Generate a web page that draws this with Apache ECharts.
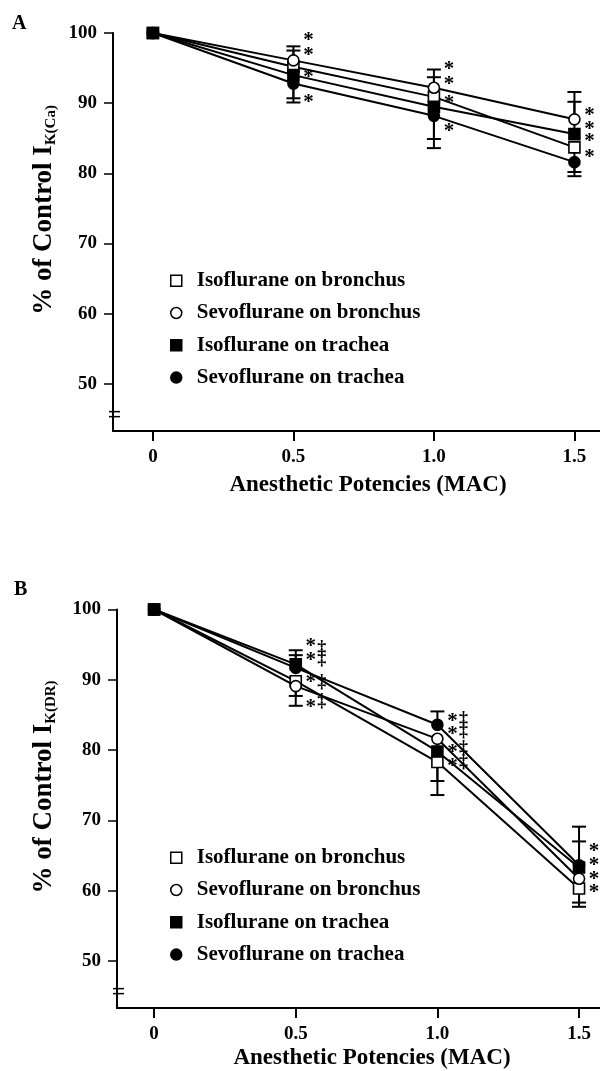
<!DOCTYPE html>
<html>
<head>
<meta charset="utf-8">
<script src="https://cdn.jsdelivr.net/npm/echarts@6/dist/echarts.min.js"></script>
<style>
  html, body { margin: 0; padding: 0; background: #fff; }
  #main { width: 600px; height: 1071px; }
</style>
</head>
<body>
<div id="main"></div>
<script>
// x values and ticks
const doses = [0, 0.5, 1.0, 1.5];
const xTickLabels = ['0', '0.5', '1.0', '1.5'];
const yTicks = [50, 60, 70, 80, 90, 100];
const names = ['Isoflurane on bronchus', 'Sevoflurane on bronchus', 'Isoflurane on trachea', 'Sevoflurane on trachea'];

// panel A, % of control IK(Ca)
const aIsoBronchus = [100, 95.2, 90.9, 83.7];
const aSevoBronchus = [100, 96.1, 92.2, 87.7];
const aIsoTrachea = [100, 94.0, 89.5, 85.6];
const aSevoTrachea = [100, 92.8, 88.2, 81.6];
// end of the (one sided) error bar, null = not shown
const aIsoBronchusErr = [null, 97.5, 93.7, 79.6];
const aSevoBronchusErr = [null, 98.1, 94.8, 91.6];
const aIsoTracheaErr = [null, 90.7, 84.9, 90.2];
const aSevoTracheaErr = [null, 90.1, 83.6, 80.2];
const aStars = [[0.5, 99.6], [0.5, 97.5], [0.5, 94.3], [0.5, 90.8],
  [1.0, 95.5], [1.0, 93.4], [1.0, 90.7], [1.0, 86.7],
  [1.5, 88.9], [1.5, 87.0], [1.5, 85.2], [1.5, 82.9]];

// panel B, % of control IK(DR)
const bIsoBronchus = [100, 89.8, 78.3, 60.3];
const bSevoBronchus = [100, 89.1, 81.6, 61.7];
const bIsoTrachea = [100, 92.2, 79.8, 63.3];
const bSevoTrachea = [100, 91.7, 83.6, 63.6];
const bIsoBronchusErr = [null, 87.7, 73.6, 57.7];
const bSevoBronchusErr = [null, 86.3, 75.6, 58.3];
const bIsoTracheaErr = [null, 94.2, null, 67.0];
const bSevoTracheaErr = [null, 93.5, 85.5, 69.1];
const bStars = [[0.5, 95.5], [0.5, 93.5], [0.5, 90.3], [0.5, 86.8],
  [1.0, 84.8], [1.0, 82.9], [1.0, 80.4], [1.0, 78.4],
  [1.5, 66.3], [1.5, 64.3], [1.5, 62.3], [1.5, 60.4]];
const bDaggers = [[0.5, 94.5], [0.5, 92.9], [0.5, 89.7], [0.5, 87.0],
  [1.0, 84.4], [1.0, 82.6], [1.0, 80.2], [1.0, 78.2]];

const yBreak = 45.7;
const FONT = '"Liberation Serif", "Times New Roman", serif';

const chart = echarts.init(document.getElementById('main'), null, { renderer: 'canvas' });

// marker look per series (same order as names)
const markerStyle = [
  { symbol: 'rect', fill: '#fff' },
  { symbol: 'circle', fill: '#fff' },
  { symbol: 'rect', fill: '#000' },
  { symbol: 'circle', fill: '#000' }
];
// draw order: filled square on top
const drawOrder = [0, 1, 3, 2];

function errRender(params, api) {
  const x = api.value(0), m = api.value(1), e = api.value(2);
  const p0 = api.coord([x, m]);
  const p1 = api.coord([x, e]);
  return {
    type: 'group',
    children: [
      { type: 'line', shape: { x1: p0[0], y1: p0[1], x2: p1[0], y2: p1[1] }, style: { stroke: '#000', lineWidth: 2 } },
      { type: 'line', shape: { x1: p1[0] - 7, y1: p1[1], x2: p1[0] + 7, y2: p1[1] }, style: { stroke: '#000', lineWidth: 2 } }
    ]
  };
}

function textRender(txt, dx, dy, size) {
  return function (params, api) {
    const p = api.coord([api.value(0), api.value(1)]);
    return {
      type: 'text', x: p[0] + dx, y: p[1] + dy,
      style: { text: txt, fill: '#000', font: 'bold ' + size + 'px ' + FONT, align: 'center', verticalAlign: 'middle' }
    };
  };
}

function breakRender(params, api) {
  const p = api.coord([api.value(0), api.value(1)]);
  return {
    type: 'group',
    children: [
      { type: 'line', shape: { x1: p[0] - 4, y1: p[1] - 2.5, x2: p[0] + 7, y2: p[1] - 2.5 }, style: { stroke: '#000', lineWidth: 1.5 } },
      { type: 'line', shape: { x1: p[0] - 4, y1: p[1] + 2.5, x2: p[0] + 7, y2: p[1] + 2.5 }, style: { stroke: '#000', lineWidth: 1.5 } }
    ]
  };
}

function panelSeries(idx, vals, errs, stars, daggers, xMin) {
  const out = [];
  // error bars
  const errData = [];
  vals.forEach((v, i) => {
    doses.forEach((d, j) => {
      if (errs[i][j] != null) errData.push([d, v[j], errs[i][j]]);
    });
  });
  out.push({
    type: 'custom', xAxisIndex: idx, yAxisIndex: idx, z: 1,
    renderItem: errRender, encode: { x: 0, y: [1, 2] }, data: errData, silent: true
  });
  // lines
  drawOrder.forEach(i => {
    out.push({
      type: 'line', name: names[i], xAxisIndex: idx, yAxisIndex: idx, z: 2,
      data: doses.map((d, j) => [d, vals[i][j]]),
      showSymbol: false, symbol: 'none',
      lineStyle: { color: '#000', width: 2 }, itemStyle: { color: '#000' }
    });
  });
  // markers
  drawOrder.forEach(i => {
    out.push({
      type: 'scatter', name: names[i], xAxisIndex: idx, yAxisIndex: idx, z: 3,
      data: doses.map((d, j) => [d, vals[i][j]]),
      symbol: markerStyle[i].symbol, symbolSize: 11,
      itemStyle: { color: markerStyle[i].fill, borderColor: '#000', borderWidth: 1.6, opacity: 1 }
    });
  });
  // significance marks
  out.push({
    type: 'custom', xAxisIndex: idx, yAxisIndex: idx, z: 4,
    renderItem: textRender('*', 15, 5, 21), data: stars, silent: true
  });
  if (daggers) {
    out.push({
      type: 'custom', xAxisIndex: idx, yAxisIndex: idx, z: 4,
      renderItem: textRender('\u2021', 26, 0, 18), data: daggers, silent: true
    });
  }
  // axis break
  out.push({
    type: 'custom', xAxisIndex: idx, yAxisIndex: idx, z: 5,
    renderItem: breakRender, data: [[xMin, yBreak]], silent: true
  });
  return out;
}

const xMinA = -0.142, xMaxA = 1.591;
const xMinB = -0.131, xMaxB = 1.574;

function xAxis(idx, min, max) {
  return {
    type: 'value', gridIndex: idx, min: min, max: max,
    axisLine: { onZero: false, lineStyle: { color: '#000', width: 2 } },
    axisTick: { customValues: doses, length: 10, lineStyle: { color: '#000', width: 2 } },
    axisLabel: {
      customValues: doses, margin: 17, color: '#000',
      fontFamily: FONT, fontWeight: 'bold', fontSize: 19,
      formatter: v => xTickLabels[doses.indexOf(v)]
    },
    splitLine: { show: false }
  };
}

function yAxis(idx) {
  return {
    type: 'value', gridIndex: idx, min: 43.3, max: 100,
    axisLine: { show: true, onZero: false, lineStyle: { color: '#000', width: 2 } },
    axisTick: { show: true, customValues: yTicks, length: 9, lineStyle: { color: '#000', width: 1.5 } },
    axisLabel: {
      customValues: yTicks, margin: 16, color: '#000',
      fontFamily: FONT, fontWeight: 'bold', fontSize: 19
    },
    splitLine: { show: false }
  };
}

function legend(top) {
  return {
    orient: 'vertical', left: 165, top: top, itemWidth: 11, itemHeight: 11, itemGap: 10.3,
    selectedMode: false,
    textStyle: { fontFamily: FONT, fontWeight: 'bold', fontSize: 21, color: '#000', lineHeight: 22, padding: [0, 0, 0, 10] },
    data: names.map((n, i) => ({
      name: n, icon: markerStyle[i].symbol,
      itemStyle: { color: markerStyle[i].fill, borderColor: '#000', borderWidth: 1.5 }
    }))
  };
}

function yTitle(cx, cy, sub) {
  return {
    type: 'text', x: cx, y: cy, rotation: Math.PI / 2,
    style: {
      text: '{m|% of Control I}{s|' + sub + '}',
      align: 'center', verticalAlign: 'middle', fill: '#000',
      rich: {
        m: { fontFamily: FONT, fontWeight: 'bold', fontSize: 27, lineHeight: 30 },
        s: { fontFamily: FONT, fontWeight: 'bold', fontSize: 15, verticalAlign: 'bottom', lineHeight: 16 }
      }
    }
  };
}

function plainText(txt, x, y, size, align) {
  return {
    type: 'text', x: x, y: y,
    style: { text: txt, fill: '#000', font: 'bold ' + size + 'px ' + FONT, align: align, verticalAlign: 'middle' }
  };
}

const option = {
  animation: false,
  backgroundColor: '#fff',
  grid: [
    { left: 113, top: 33, width: 487, height: 398 },
    { left: 117, top: 609.5, width: 483, height: 398.5 }
  ],
  xAxis: [xAxis(0, xMinA, xMaxA), xAxis(1, xMinB, xMaxB)],
  yAxis: [yAxis(0), yAxis(1)],
  legend: [legend(264.7), legend(841.7)],
  graphic: [
    plainText('A', 12, 24, 20, 'left'),
    plainText('B', 14, 590, 20, 'left'),
    plainText('Anesthetic Potencies (MAC)', 368, 485, 23, 'center'),
    plainText('Anesthetic Potencies (MAC)', 372, 1058, 23, 'center'),
    yTitle(44, 210, 'K(Ca)'),
    yTitle(44, 787, 'K(DR)')
  ],
  series: [].concat(
    panelSeries(0,
      [aIsoBronchus, aSevoBronchus, aIsoTrachea, aSevoTrachea],
      [aIsoBronchusErr, aSevoBronchusErr, aIsoTracheaErr, aSevoTracheaErr],
      aStars, null, xMinA),
    panelSeries(1,
      [bIsoBronchus, bSevoBronchus, bIsoTrachea, bSevoTrachea],
      [bIsoBronchusErr, bSevoBronchusErr, bIsoTracheaErr, bSevoTracheaErr],
      bStars, bDaggers, xMinB)
  )
};

chart.setOption(option);
</script>
</body>
</html>
